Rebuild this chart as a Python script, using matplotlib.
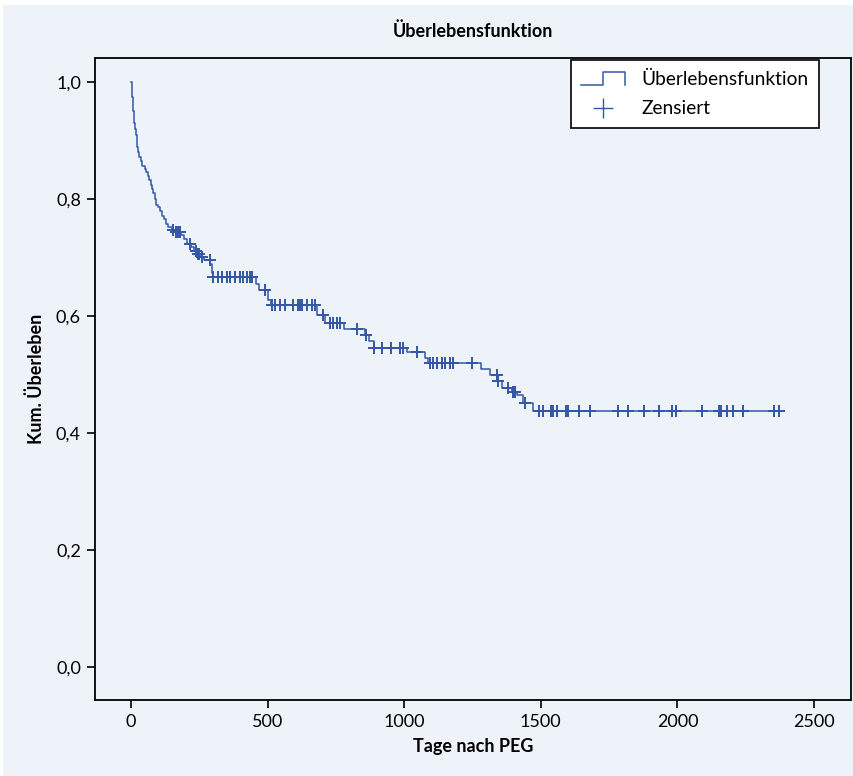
import numpy as np
import matplotlib
matplotlib.use('Agg')
import matplotlib.pyplot as plt
from matplotlib.lines import Line2D
from matplotlib.legend_handler import HandlerBase
from matplotlib.patches import Rectangle
from matplotlib.ticker import FuncFormatter

plt.rcParams['font.family'] = ['Lato', 'DejaVu Sans']

# Kaplan-Meier steps: time (days) and survival after the step
event_days = [0, 3, 5, 7, 9, 11, 13, 15, 18, 21, 24, 27, 31, 36, 42, 50, 56, 62, 67,
              72, 77, 82, 87, 92, 100, 108, 114, 120, 128, 136, 150, 165, 185, 195,
              205, 220, 232, 242, 255, 268, 290, 296, 300, 458, 470, 503, 512, 680,
              712, 780, 855, 870, 890, 1011, 1076, 1088, 1280, 1314, 1341, 1357,
              1393, 1414, 1436, 1473]
survival = [1.0, 0.99, 0.975, 0.96, 0.95, 0.94, 0.93, 0.92, 0.91, 0.90, 0.89, 0.88,
            0.872, 0.866, 0.857, 0.852, 0.846, 0.84, 0.832, 0.824, 0.817, 0.81, 0.80,
            0.79, 0.787, 0.78, 0.772, 0.766, 0.758, 0.752, 0.748, 0.744, 0.738, 0.732,
            0.724, 0.718, 0.712, 0.706, 0.701, 0.696, 0.690, 0.673, 0.667, 0.655,
            0.645, 0.627, 0.619, 0.602, 0.588, 0.578, 0.568, 0.557, 0.546, 0.538,
            0.529, 0.520, 0.510, 0.500, 0.489, 0.478, 0.471, 0.466, 0.452, 0.438]
last_day = 2390

censored_days = [155, 165, 173, 179, 216, 240, 246, 250, 259, 289, 300, 318, 333, 351,
                 362, 380, 399, 410, 425, 436, 443, 490, 515, 527, 545, 564, 593, 611,
                 619, 626, 644, 662, 673, 703, 728, 739, 754, 765, 826, 862, 890, 920,
                 950, 985, 994, 1046, 1094, 1105, 1119, 1137, 1149, 1168, 1177, 1247,
                 1338, 1345, 1381, 1398, 1400, 1405, 1442, 1494, 1509, 1536, 1543,
                 1558, 1592, 1601, 1640, 1680, 1784, 1818, 1878, 1933, 1981, 1994,
                 2090, 2151, 2158, 2183, 2205, 2239, 2353, 2371]

blue = '#3457a5'
bg = '#eef3fa'


class StepHandler(HandlerBase):
    def create_artists(self, legend, orig_handle, xdescent, ydescent, width, height,
                       fontsize, trans):
        x0, x1 = -xdescent, -xdescent + width
        xm = x0 + width * 0.5
        ylo, yhi = -ydescent - height * 0.05, -ydescent + height * 0.95
        line = Line2D([x0, xm, xm, x1, x1], [ylo, ylo, yhi, yhi, ylo],
                      color=blue, lw=1.1, transform=trans)
        return [line]


fig = plt.figure(figsize=(8.54, 7.76), dpi=100, facecolor='white')
fig.patches.append(Rectangle((0.004, 0.0), 0.996, 0.994, transform=fig.transFigure,
                             facecolor=bg, edgecolor='none', zorder=-1))
ax = fig.add_axes([0.111, 0.098, 0.8855, 0.827])
ax.set_facecolor(bg)

t = np.array(event_days + [last_day])
s = np.array(survival + [survival[-1]])
ax.step(t, s, where='post', color=blue, lw=1.1)

cd = np.array(censored_days)
cs = s[np.searchsorted(t, cd, side='right') - 1]
ax.plot(cd, cs, linestyle='none', marker='+', markersize=9, mew=1.4, color=blue)

ax.set_xlim(-132, 2635)
ax.set_ylim(-0.056, 1.041)
ax.set_xticks([0, 500, 1000, 1500, 2000, 2500])
ax.set_yticks([0.0, 0.2, 0.4, 0.6, 0.8, 1.0])
ax.yaxis.set_major_formatter(FuncFormatter(lambda v, p: f'{v:.1f}'.replace('.', ',')))
ax.tick_params(direction='out', length=6, width=1.2, labelsize=13, pad=4)
for sp in ax.spines.values():
    sp.set_linewidth(1.3)

ax.set_title('Überlebensfunktion', fontsize=13, fontweight='bold', pad=15)
ax.set_xlabel('Tage nach PEG', fontsize=13, fontweight='bold', labelpad=6)
ax.set_ylabel('Kum. Überleben', fontsize=13, fontweight='bold', labelpad=8)

step_handle = Line2D([], [], color=blue)
cens_handle = Line2D([], [], linestyle='none', marker='+', markersize=15, mew=1.0,
                     color=blue)
leg = ax.legend([step_handle, cens_handle], ['Überlebensfunktion', 'Zensiert'],
                loc='upper right', bbox_to_anchor=(0.958, 0.997), fontsize=13.8,
                handler_map={step_handle: StepHandler()}, frameon=True, fancybox=False,
                edgecolor='black', handlelength=2.3, handletextpad=0.85,
                borderpad=0.55, labelspacing=0.65, borderaxespad=0)
leg.get_frame().set_linewidth(1.2)
leg.get_frame().set_facecolor('white')
leg.get_frame().set_alpha(1)

fig.savefig('out.png', dpi=100, facecolor=fig.get_facecolor())
